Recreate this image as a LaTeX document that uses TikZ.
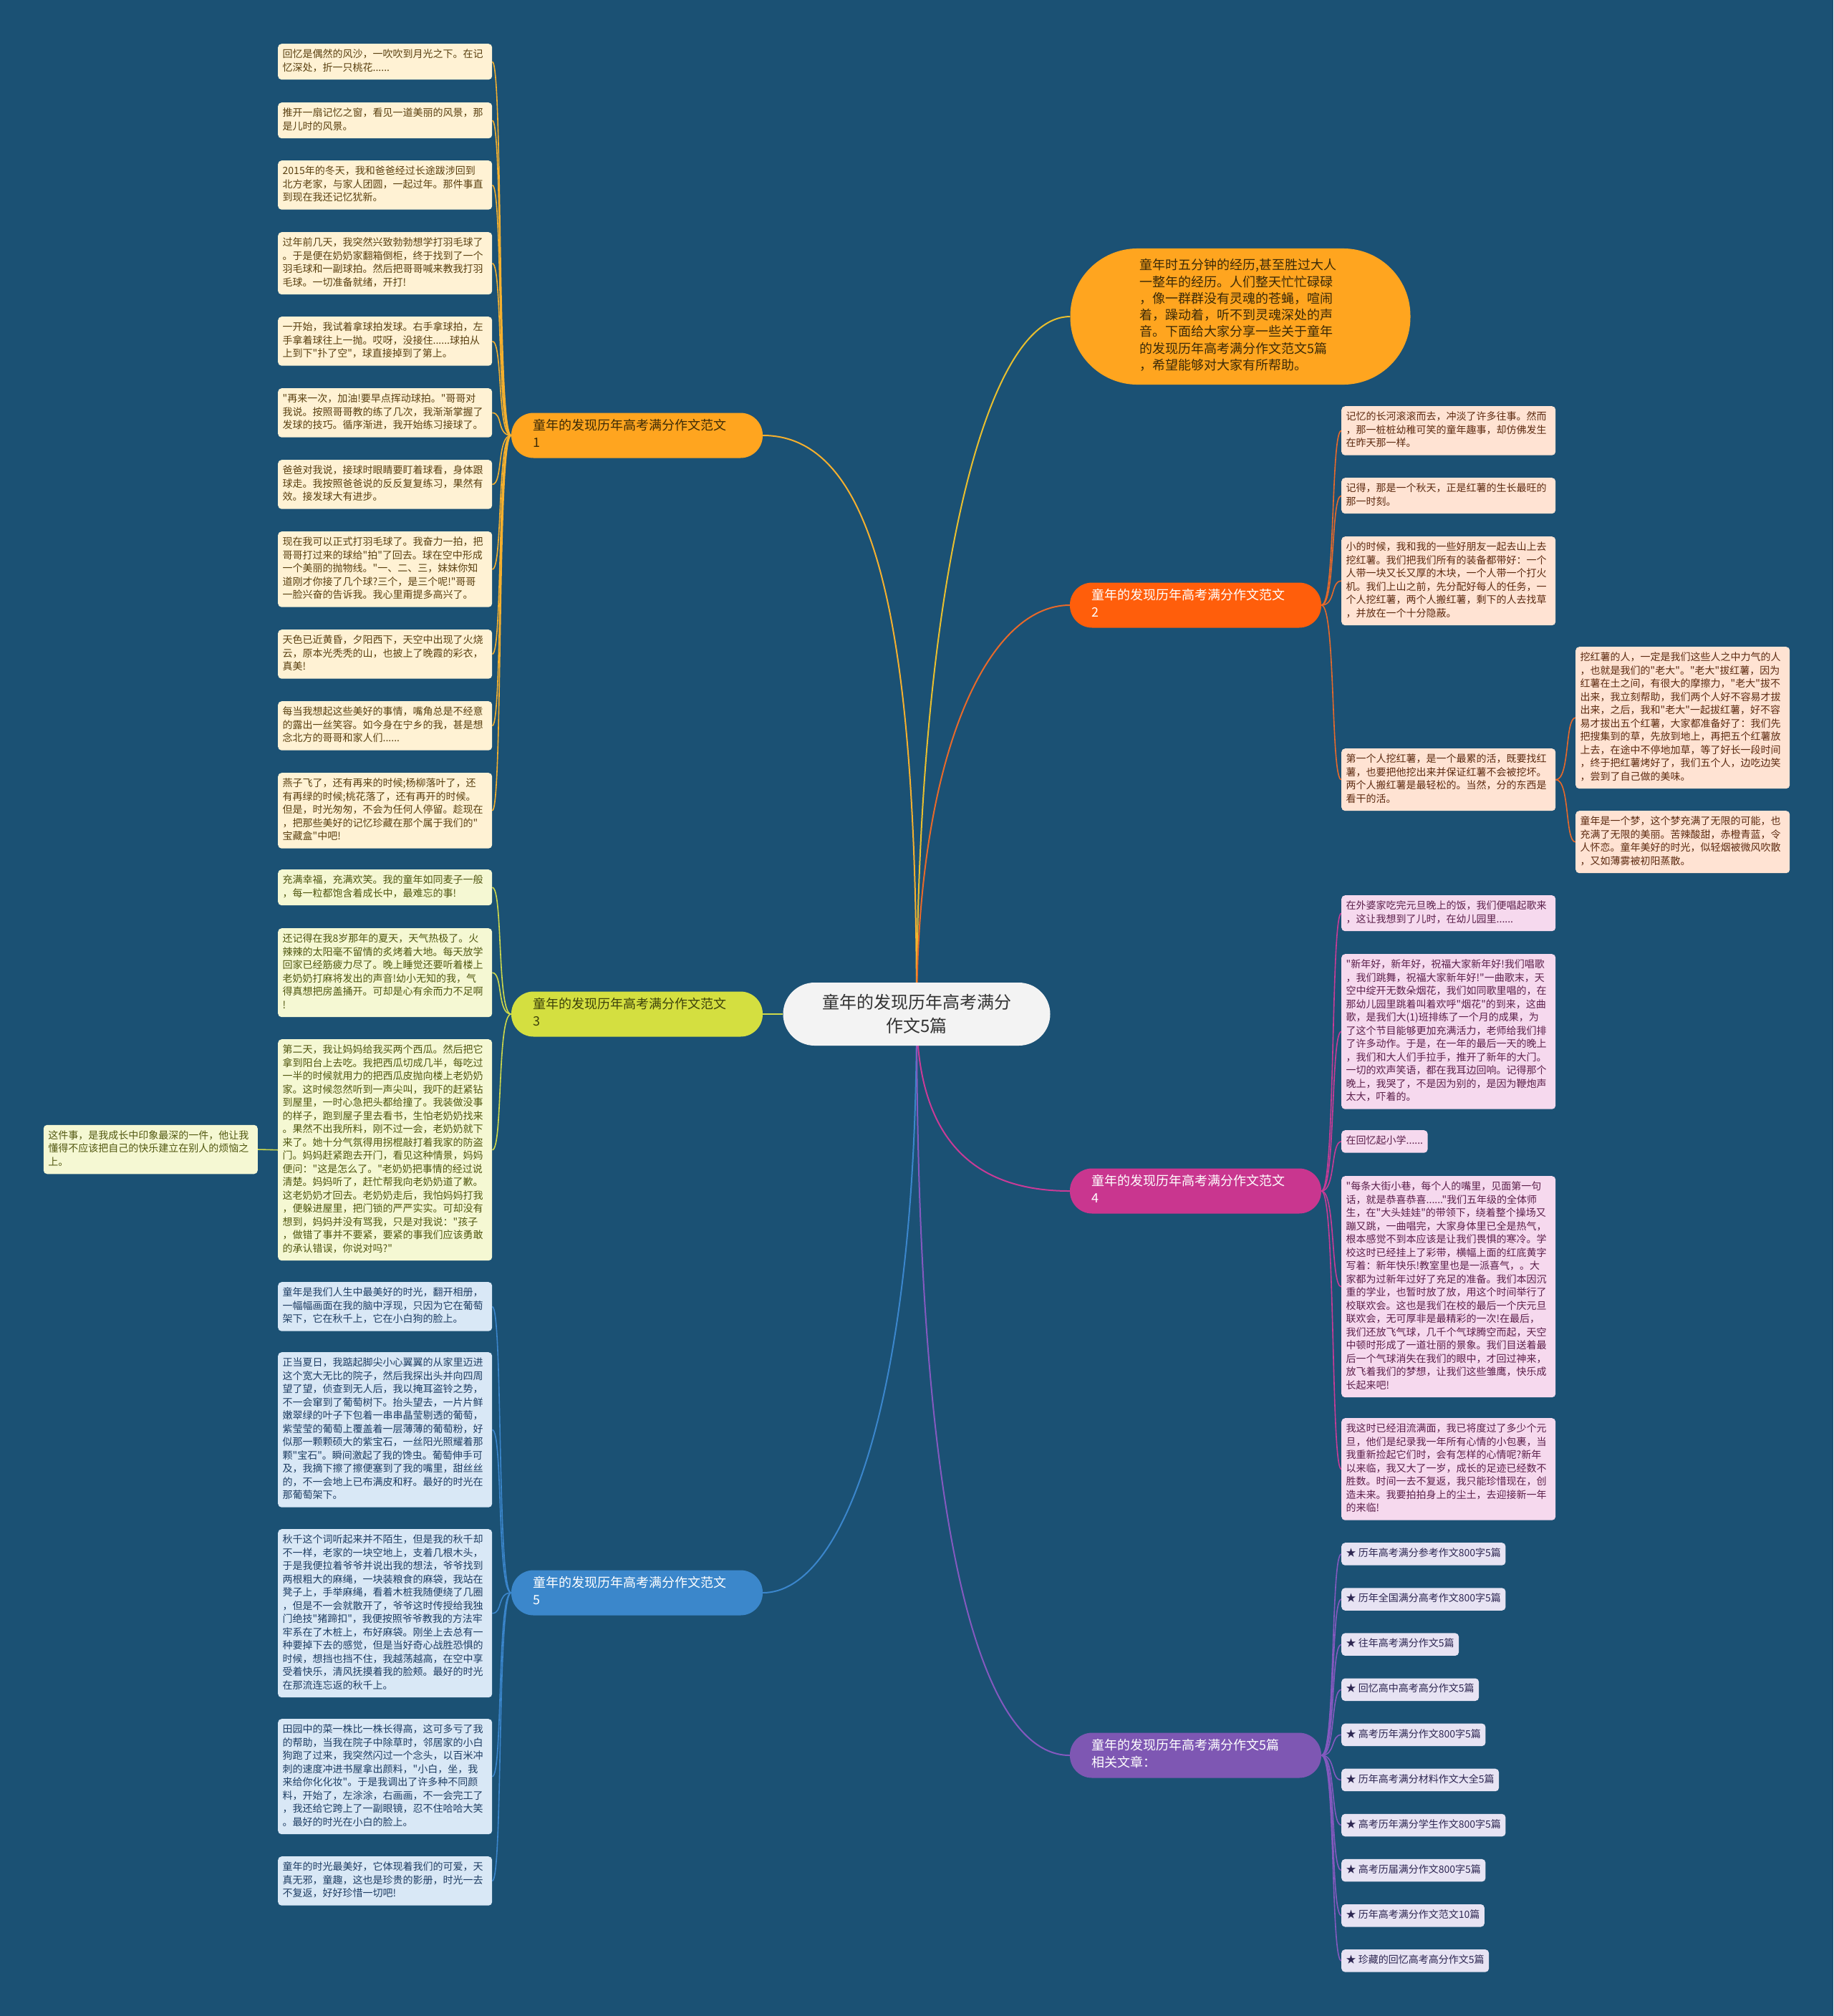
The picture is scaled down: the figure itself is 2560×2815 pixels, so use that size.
\documentclass[tikz,border=0pt]{standalone}
\usepackage{fontspec}
\setmainfont{Noto Sans CJK SC}[Ligatures=TeXOff]
\usetikzlibrary{backgrounds}

\definecolor{bgblue}{HTML}{1B5174}
\definecolor{rootfill}{HTML}{F3F3F3}
\definecolor{orangeA}{HTML}{FFA51F}
\definecolor{lineA}{HTML}{F5B02E}
\definecolor{lineI}{HTML}{E9BF2E}
\definecolor{orangeB}{HTML}{FF5E0B}
\definecolor{lineB}{HTML}{E8692A}
\definecolor{limeC}{HTML}{D4DF40}
\definecolor{lineC}{HTML}{CFD94A}
\definecolor{pinkD}{HTML}{C9368F}
\definecolor{lineD}{HTML}{C93B97}
\definecolor{blueE}{HTML}{3B87CB}
\definecolor{lineE}{HTML}{3B86CC}
\definecolor{purpleF}{HTML}{7E57B3}
\definecolor{lineF}{HTML}{8459BF}

\begin{document}
\begin{tikzpicture}[x=1pt, y=-1pt,
  leaf/.style={rounded corners=5pt, text width=286pt, align=left,
    inner xsep=6.5pt, inner ysep=6.5pt, anchor=north west,
    font=\fontsize{14}{18.5}\selectfont,
    execute at begin node=\strut, execute at end node=\strut},
  leafA/.style={leaf, fill={rgb,255:red,255;green,242;blue,212}, text={rgb,255:red,90;green,64;blue,16}},
  leafB/.style={leaf, fill={rgb,255:red,255;green,227;blue,211}, text={rgb,255:red,92;green,42;blue,16}},
  leafC/.style={leaf, fill={rgb,255:red,245;green,248;blue,211}, text={rgb,255:red,81;green,87;blue,16}},
  leafD/.style={leaf, fill={rgb,255:red,246;green,217;blue,238}, text={rgb,255:red,91;green,31;blue,74}},
  leafE/.style={leaf, fill={rgb,255:red,217;green,232;blue,246}, text={rgb,255:red,30;green,61;blue,99}},
  leafF/.style={leaf, text width=, fill={rgb,255:red,231;green,227;blue,243}, text={rgb,255:red,46;green,39;blue,82}},
  branch/.style={rounded corners=31pt, text width=290pt, inner xsep=30.5pt,
    inner ysep=7.5pt, align=left, font=\fontsize{18}{24}\selectfont,
    execute at begin node=\strut, execute at end node=\strut},
  link/.style={line width=2pt},
  twig/.style={line width=1.6pt}]

  \useasboundingbox (0,0) rectangle (2560,2815);
  \begin{scope}[on background layer]
    \fill[bgblue] (0,0) rectangle (2560,2815);
  \end{scope}

  % Root node
  \node[fill=rootfill, text={rgb,255:red,51;green,51;blue,51}, rounded corners=44pt,
    minimum width=373pt, minimum height=88pt, align=center,
    font=\fontsize{24}{33}\selectfont] (root) at (1280,1416)
    {童年的发现历年高考满分\\作文5篇};

  % Intro bubble
  \node[fill=orangeA, text={rgb,255:red,59;green,42;blue,8}, rounded corners=94pt,
    text width=282pt, inner xsep=96.5pt, inner ysep=13.5pt, align=left,
    font=\fontsize{18}{23.3}\selectfont,
    execute at begin node=\strut, execute at end node=\strut] (intro) at (1732,442)
    {童年时五分钟的经历,甚至胜过大人\\一整年的经历。人们整天忙忙碌碌\\，像一群群没有灵魂的苍蝇，喧闹\\着，躁动着，听不到灵魂深处的声\\音。下面给大家分享一些关于童年\\的发现历年高考满分作文范文5篇\\，希望能够对大家有所帮助。};

  % Branch nodes
  \node[branch, fill=orangeA, text={rgb,255:red,61;green,43;blue,6}] (b1) at (889.5,608) {童年的发现历年高考满分作文范文\\1};
  \node[branch, fill=limeC, text={rgb,255:red,61;green,66;blue,10}] (b3) at (889.5,1416) {童年的发现历年高考满分作文范文\\3};
  \node[branch, fill=blueE, text=white] (b5) at (889.5,2224) {童年的发现历年高考满分作文范文\\5};
  \node[branch, fill=orangeB, text=white] (b2) at (1669.5,845) {童年的发现历年高考满分作文范文\\2};
  \node[branch, fill=pinkD, text=white] (b4) at (1669.5,1663) {童年的发现历年高考满分作文范文\\4};
  \node[branch, fill=purpleF, text=white] (b6) at (1669.5,2451) {童年的发现历年高考满分作文5篇\\相关文章：};

  % Essay 1
  \node[leafA] (a1) at (388,61) {回忆是偶然的风沙，一吹吹到月光之下。在记\\忆深处，折一只桃花......};
  \node[leafA] (a2) at (388,143) {推开一扇记忆之窗，看见一道美丽的风景，那\\是儿时的风景。};
  \node[leafA] (a3) at (388,224) {2015年的冬天，我和爸爸经过长途跋涉回到\\北方老家，与家人团圆，一起过年。那件事直\\到现在我还记忆犹新。};
  \node[leafA] (a4) at (388,324) {过年前几天，我突然兴致勃勃想学打羽毛球了\\。于是便在奶奶家翻箱倒柜，终于找到了一个\\羽毛球和一副球拍。然后把哥哥喊来教我打羽\\毛球。一切准备就绪，开打!};
  \node[leafA] (a5) at (388,442) {一开始，我试着拿球拍发球。右手拿球拍，左\\手拿着球往上一抛。哎呀，没接住......球拍从\\上到下"扑了空"，球直接掉到了第上。};
  \node[leafA] (a6) at (388,542) {"再来一次，加油!要早点挥动球拍。"哥哥对\\我说。按照哥哥教的练了几次，我渐渐掌握了\\发球的技巧。循序渐进，我开始练习接球了。};
  \node[leafA] (a7) at (388,642) {爸爸对我说，接球时眼睛要盯着球看，身体跟\\球走。我按照爸爸说的反反复复练习，果然有\\效。接发球大有进步。};
  \node[leafA] (a8) at (388,742) {现在我可以正式打羽毛球了。我奋力一拍，把\\哥哥打过来的球给"拍"了回去。球在空中形成\\一个美丽的抛物线。"一、二、三，妹妹你知\\道刚才你接了几个球?三个，是三个呢!"哥哥\\一脸兴奋的告诉我。我心里甭提多高兴了。};
  \node[leafA] (a9) at (388,879) {天色已近黄昏，夕阳西下，天空中出现了火烧\\云，原本光秃秃的山，也披上了晚霞的彩衣，\\真美!};
  \node[leafA] (a10) at (388,979) {每当我想起这些美好的事情，嘴角总是不经意\\的露出一丝笑容。如今身在宁乡的我，甚是想\\念北方的哥哥和家人们......};
  \node[leafA] (a11) at (388,1079) {燕子飞了，还有再来的时候;杨柳落叶了，还\\有再绿的时候;桃花落了，还有再开的时候。\\但是，时光匆匆，不会为任何人停留。趁现在\\，把那些美好的记忆珍藏在那个属于我们的"\\宝藏盒"中吧!};

  % Essay 3
  \node[leafC] (c1) at (388,1214) {充满幸福，充满欢笑。我的童年如同麦子一般\\，每一粒都饱含着成长中，最难忘的事!};
  \node[leafC] (c2) at (388,1296) {还记得在我8岁那年的夏天，天气热极了。火\\辣辣的太阳毫不留情的炙烤着大地。每天放学\\回家已经筋疲力尽了。晚上睡觉还要听着楼上\\老奶奶打麻将发出的声音!幼小无知的我，气\\得真想把房盖捅开。可却是心有余而力不足啊\\!};
  \node[leafC] (c3) at (388,1451) {第二天，我让妈妈给我买两个西瓜。然后把它\\拿到阳台上去吃。我把西瓜切成几半，每吃过\\一半的时候就用力的把西瓜皮抛向楼上老奶奶\\家。这时候忽然听到一声尖叫，我吓的赶紧钻\\到屋里，一时心急把头都给撞了。我装做没事\\的样子，跑到屋子里去看书，生怕老奶奶找来\\。果然不出我所料，刚不过一会，老奶奶就下\\来了。她十分气氛得用拐棍敲打着我家的防盗\\门。妈妈赶紧跑去开门，看见这种情景，妈妈\\便问："这是怎么了。"老奶奶把事情的经过说\\清楚。妈妈听了，赶忙帮我向老奶奶道了歉。\\这老奶奶才回去。老奶奶走后，我怕妈妈打我\\，便躲进屋里，把门锁的严严实实。可却没有\\想到，妈妈并没有骂我，只是对我说："孩子\\，做错了事并不要紧，要紧的事我们应该勇敢\\的承认错误，你说对吗?"};
  \node[leafC, anchor=east] (c4) at (360,1605) {这件事，是我成长中印象最深的一件，他让我\\懂得不应该把自己的快乐建立在别人的烦恼之\\上。};

  % Essay 5
  \node[leafE] (e1) at (388,1790) {童年是我们人生中最美好的时光，翻开相册，\\一幅幅画面在我的脑中浮现，只因为它在葡萄\\架下，它在秋千上，它在小白狗的脸上。};
  \node[leafE] (e2) at (388,1888) {正当夏日，我踮起脚尖小心翼翼的从家里迈进\\这个宽大无比的院子，然后我探出头并向四周\\望了望，侦查到无人后，我以掩耳盗铃之势，\\不一会窜到了葡萄树下。抬头望去，一片片鲜\\嫩翠绿的叶子下包着一串串晶莹剔透的葡萄，\\紫莹莹的葡萄上覆盖着一层薄薄的葡萄粉，好\\似那一颗颗硕大的紫宝石，一丝阳光照耀着那\\颗"宝石"。瞬间激起了我的馋虫。葡萄伸手可\\及，我摘下擦了擦便塞到了我的嘴里，甜丝丝\\的，不一会地上已布满皮和籽。最好的时光在\\那葡萄架下。};
  \node[leafE] (e3) at (388,2135) {秋千这个词听起来并不陌生，但是我的秋千却\\不一样，老家的一块空地上，支着几根木头，\\于是我便拉着爷爷并说出我的想法，爷爷找到\\两根粗大的麻绳，一块装粮食的麻袋，我站在\\凳子上，手举麻绳，看着木桩我随便绕了几圈\\，但是不一会就散开了，爷爷这时传授给我独\\门绝技"猪蹄扣"，我便按照爷爷教我的方法牢\\牢系在了木桩上，布好麻袋。刚坐上去总有一\\种要掉下去的感觉，但是当好奇心战胜恐惧的\\时候，想挡也挡不住，我越荡越高，在空中享\\受着快乐，清风抚摸着我的脸颊。最好的时光\\在那流连忘返的秋千上。};
  \node[leafE] (e4) at (388,2400) {田园中的菜一株比一株长得高，这可多亏了我\\的帮助，当我在院子中除草时，邻居家的小白\\狗跑了过来，我突然闪过一个念头，以百米冲\\刺的速度冲进书屋拿出颜料，"小白，坐，我\\来给你化化妆"。于是我调出了许多种不同颜\\料，开始了，左涂涂，右画画，不一会完工了\\，我还给它跨上了一副眼镜，忍不住哈哈大笑\\。最好的时光在小白的脸上。};
  \node[leafE] (e5) at (388,2592) {童年的时光最美好，它体现着我们的可爱，天\\真无邪，童趣，这也是珍贵的影册，时光一去\\不复返，好好珍惜一切吧!};

  % Essay 2
  \node[leafB] (d1) at (1873,567) {记忆的长河滚滚而去，冲淡了许多往事。然而\\，那一桩桩幼稚可笑的童年趣事，却仿佛发生\\在昨天那一样。};
  \node[leafB] (d2) at (1873,667) {记得，那是一个秋天，正是红薯的生长最旺的\\那一时刻。};
  \node[leafB] (d3) at (1873,749) {小的时候，我和我的一些好朋友一起去山上去\\挖红薯。我们把我们所有的装备都带好：一个\\人带一块又长又厚的木块，一个人带一个打火\\机。我们上山之前，先分配好每人的任务，一\\个人挖红薯，两个人搬红薯，剩下的人去找草\\，并放在一个十分隐蔽。};
  \node[leafB] (d4) at (1873,1045) {第一个人挖红薯，是一个最累的活，既要找红\\薯，也要把他挖出来并保证红薯不会被挖坏。\\两个人搬红薯是最轻松的。当然，分的东西是\\看干的活。};
  \node[leafB] (d5) at (2200,903) {挖红薯的人，一定是我们这些人之中力气的人\\，也就是我们的"老大"。"老大"拔红薯，因为\\红薯在土之间，有很大的摩擦力，"老大"拔不\\出来，我立刻帮助，我们两个人好不容易才拔\\出来，之后，我和"老大"一起拔红薯，好不容\\易才拔出五个红薯，大家都准备好了：我们先\\把搜集到的草，先放到地上，再把五个红薯放\\上去，在途中不停地加草，等了好长一段时间\\，终于把红薯烤好了，我们五个人，边吃边笑\\，尝到了自己做的美味。};
  \node[leafB] (d6) at (2200,1132) {童年是一个梦，这个梦充满了无限的可能，也\\充满了无限的美丽。苦辣酸甜，赤橙青蓝，令\\人怀恋。童年美好的时光，似轻烟被微风吹散\\，又如薄雾被初阳蒸散。};

  % Essay 4
  \node[leafD] (f1) at (1873,1250) {在外婆家吃完元旦晚上的饭，我们便唱起歌来\\，这让我想到了儿时，在幼儿园里......};
  \node[leafD] (f2) at (1873,1332) {"新年好，新年好，祝福大家新年好!我们唱歌\\，我们跳舞，祝福大家新年好!"一曲歌末，天\\空中绽开无数朵烟花，我们如同歌里唱的，在\\那幼儿园里跳着叫着欢呼"烟花"的到来，这曲\\歌，是我们大(1)班排练了一个月的成果，为\\了这个节目能够更加充满活力，老师给我们排\\了许多动作。于是，在一年的最后一天的晚上\\，我们和大人们手拉手，推开了新年的大门。\\一切的欢声笑语，都在我耳边回响。记得那个\\晚上，我哭了，不是因为别的，是因为鞭炮声\\太大，吓着的。};
  \node[leafD, text width=] (f3) at (1873,1578) {在回忆起小学......};
  \node[leafD] (f4) at (1873,1642) {"每条大街小巷，每个人的嘴里，见面第一句\\话，就是恭喜恭喜......"我们五年级的全体师\\生，在"大头娃娃"的带领下，绕着整个操场又\\蹦又跳，一曲唱完，大家身体里已全是热气，\\根本感觉不到本应该是让我们畏惧的寒冷。学\\校这时已经挂上了彩带，横幅上面的红底黄字\\写着：新年快乐!教室里也是一派喜气，。大\\家都为过新年过好了充足的准备。我们本因沉\\重的学业，也暂时放了放，用这个时间举行了\\校联欢会。这也是我们在校的最后一个庆元旦\\联欢会，无可厚非是最精彩的一次!在最后，\\我们还放飞气球，几千个气球腾空而起，天空\\中顿时形成了一道壮丽的景象。我们目送着最\\后一个气球消失在我们的眼中，才回过神来，\\放飞着我们的梦想，让我们这些雏鹰，快乐成\\长起来吧!};
  \node[leafD] (f5) at (1873,1980) {我这时已经泪流满面，我已将度过了多少个元\\旦，他们是纪录我一年所有心情的小包裹，当\\我重新捡起它们时，会有怎样的心情呢?新年\\以来临，我又大了一岁，成长的足迹已经数不\\胜数。时间一去不复返，我只能珍惜现在，创\\造未来。我要拍拍身上的尘土，去迎接新一年\\的来临!};

  % Related articles
  \foreach \t [count=\i] in {★ 历年高考满分参考作文800字5篇, ★ 历年全国满分高考作文800字5篇,
      ★ 往年高考满分作文5篇, ★ 回忆高中高考高分作文5篇, ★ 高考历年满分作文800字5篇,
      ★ 历年高考满分材料作文大全5篇, ★ 高考历年满分学生作文800字5篇,
      ★ 高考历届满分作文800字5篇, ★ 历年高考满分作文范文10篇, ★ 珍藏的回忆高考高分作文5篇}
    \node[leafF] (r\i) at (1873,{2154+63.1*(\i-1)}) {\t};

  % Connectors
  \begin{scope}[on background layer]
    \draw[link, lineI] (root.center) .. controls +(0,-566) and +(-125,0) .. (intro.west);
    \draw[link, lineA] (root.center) .. controls +(0,-516) and +(165,0) .. (b1.east);
    \draw[link, lineB] (root.center) .. controls +(0,-366) and +(-114,0) .. (b2.west);
    \draw[link, lineC] (root.west) -- (b3.east);
    \draw[link, lineD] (root.center) .. controls +(0,164) and +(-144,0) .. (b4.west);
    \draw[link, lineE] (root.center) .. controls +(0,534) and +(115,0) .. (b5.east);
    \draw[link, lineF] (root.center) .. controls +(0,684) and +(-134,0) .. (b6.west);

    \foreach \n in {a1,a2,a3,a4,a5,a6,a7,a8,a9,a10,a11}
      \draw[twig, lineA] (b1.west) .. controls +(-20,0) and +(15,0) .. (\n.east);
    \foreach \n in {c1,c2,c3}
      \draw[twig, lineC] (b3.west) .. controls +(-20,0) and +(15,0) .. (\n.east);
    \draw[twig, lineC] (c3.west) -- (c4.east);
    \foreach \n in {e1,e2,e3,e4,e5}
      \draw[twig, lineE] (b5.west) .. controls +(-20,0) and +(15,0) .. (\n.east);
    \foreach \n in {d1,d2,d3,d4}
      \draw[twig, lineB] (b2.east) .. controls +(20,0) and +(-15,0) .. (\n.west);
    \foreach \n in {d5,d6}
      \draw[twig, lineB] (d4.east) .. controls +(20,0) and +(-15,0) .. (\n.west);
    \foreach \n in {f1,f2,f3,f4,f5}
      \draw[twig, lineD] (b4.east) .. controls +(20,0) and +(-15,0) .. (\n.west);
    \foreach \i in {1,...,10}
      \draw[twig, lineF] (b6.east) .. controls +(20,0) and +(-15,0) .. (r\i.west);
  \end{scope}
\end{tikzpicture}
\end{document}
